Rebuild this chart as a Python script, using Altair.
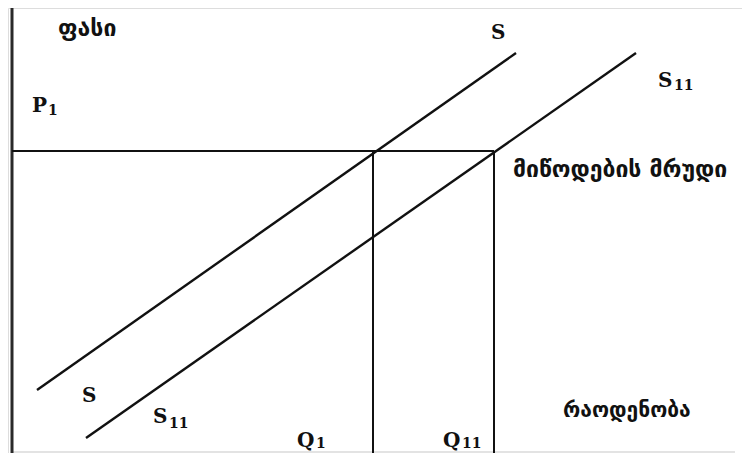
import altair as alt
import pandas as pd

# Diagram coordinates: quantity to the right, price upward (origin at the axes corner)
seg_role = ["axis", "base", "guide", "guide", "guide", "curve", "curve"]
seg_name = ["price axis", "quantity axis", "P1 level", "Q1", "Q11", "S", "S11"]
seg_x0 = [0, 0, 0, 361, 482, 25, 74]
seg_y0 = [0, 7, 308, 0, 0, 69, 21]
seg_x1 = [0, 723, 482, 361, 482, 504, 624]
seg_y1 = [470, 7, 308, 308, 308, 406, 406]

# Main labels (Latin letters)
lab_text = ["S", "S", "S", "S", "P", "Q", "Q"]
lab_x = [479, 646, 70, 141, 20, 285, 431]
lab_y = [420, 372, 57, 36, 347, 12, 12]

# Subscripts
sub_text = ["11", "11", "1", "1", "11"]
sub_x = [662, 157, 36, 304, 450]
sub_y = [369, 31, 344, 11, 11]

# Georgian labels
geo_text = ["ფასი", "მიწოდების მრუდი", "რაოდენობა"]
geo_x = [46, 501, 551]
geo_y = [423, 282, 42]
geo_size = [23, 23, 21]

segs = pd.DataFrame({"role": seg_role, "name": seg_name,
                     "x": seg_x0, "y": seg_y0, "x2": seg_x1, "y2": seg_y1})
labs = pd.DataFrame({"t": lab_text, "x": lab_x, "y": lab_y})
subs = pd.DataFrame({"t": sub_text, "x": sub_x, "y": sub_y})
geos = pd.DataFrame({"t": geo_text, "x": geo_x, "y": geo_y, "s": geo_size})

xs = alt.Scale(domain=[-4, 730], nice=False, zero=False)
ys = alt.Scale(domain=[6, 451], nice=False, zero=False)

def seg_layer(role, color, width):
    return alt.Chart(segs).transform_filter(alt.datum.role == role).mark_rule(
        color=color, strokeWidth=width
    ).encode(
        x=alt.X("x:Q", scale=xs, axis=None),
        y=alt.Y("y:Q", scale=ys, axis=None),
        x2="x2:Q", y2="y2:Q",
    )

axis_l = seg_layer("axis", "#2a2a2a", 3)
base_l = seg_layer("base", "#c8c8c8", 1.2)
guide_l = seg_layer("guide", "#111111", 2)
curve_l = seg_layer("curve", "#111111", 2.4)

lab_l = alt.Chart(labs).mark_text(
    font="DejaVu Serif", fontWeight="bold", fontSize=20, align="left",
    baseline="alphabetic", color="#111111"
).encode(x=alt.X("x:Q", scale=xs), y=alt.Y("y:Q", scale=ys), text="t:N")

sub_l = alt.Chart(subs).mark_text(
    font="DejaVu Serif", fontWeight="bold", fontSize=14, align="left",
    baseline="alphabetic", color="#111111"
).encode(x=alt.X("x:Q", scale=xs), y=alt.Y("y:Q", scale=ys), text="t:N")

geo_l = alt.Chart(geos).mark_text(
    font="DejaVu Sans", fontWeight="bold", align="left",
    baseline="alphabetic", color="#111111"
).encode(
    x=alt.X("x:Q", scale=xs), y=alt.Y("y:Q", scale=ys), text="t:N",
    size=alt.Size("s:Q", scale=None, legend=None),
)

chart = alt.layer(base_l, axis_l, guide_l, curve_l, lab_l, sub_l, geo_l).properties(
    width=734, height=445, padding=0, autosize=alt.AutoSizeParams(type="none")
).configure_view(stroke=None).configure(background="white")

chart.save("out.html", embed_options={"renderer": "svg", "actions": False})
